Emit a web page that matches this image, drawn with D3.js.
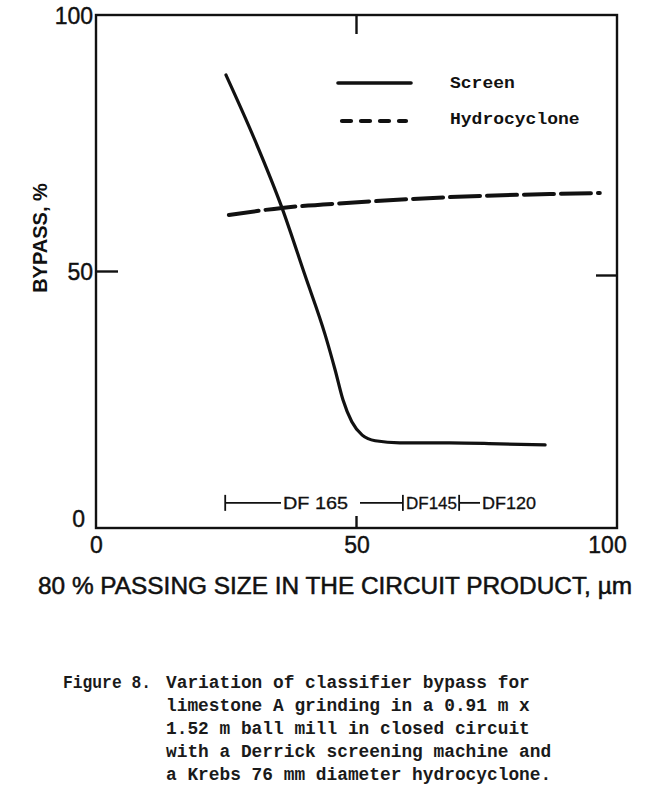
<!DOCTYPE html>
<html><head><meta charset="utf-8">
<script src="https://cdn.jsdelivr.net/npm/d3@7/dist/d3.min.js"></script>
<style>body{margin:0;background:#fff}svg{display:block}</style>
</head><body>
<script>
// ---- data ----
const screenX = [24.95, 30.5, 35.7, 40.1, 44.0, 45.9, 47.4, 49.1, 51.1, 53.6, 58.3, 67.9, 77.5, 86.2];
const screenY = [88.3, 75.6, 62.4, 49.3, 37.6, 30.8, 25.0, 20.7, 18.1, 17.0, 16.6, 16.6, 16.4, 16.2];
const hydroX = [25.5, 35.7, 48.8, 67.9, 87.1, 96.7];
const hydroY = [61.0, 62.4, 63.4, 64.5, 65.1, 65.3];
const xTicks = [0, 50, 100];
const yTicks = [0, 50, 100];
const seriesNames = ["Screen", "Hydrocyclone"];
const dfLabels = ["DF 165", "DF145", "DF120"];
const dfBars = [24.8, 58.9, 69.7];
const captionHead = "Figure 8.";
const captionLines = [
  "Variation of classifier bypass for",
  "limestone A grinding in a 0.91 m x",
  "1.52 m ball mill in closed circuit",
  "with a Derrick screening machine and",
  "a Krebs 76 mm diameter hydrocyclone."
];

const W = 646, H = 788;
const svg = d3.select("body").append("svg").attr("width", W).attr("height", H);
svg.append("rect").attr("width", W).attr("height", H).attr("fill", "#fff");

const x = d3.scaleLinear().domain([0, 100]).range([96, 617]);
const y = d3.scaleLinear().domain([0, 100]).range([528, 15]);

const ink = "#111";
const sans = "'Liberation Sans', Arial, sans-serif";
const mono = "'Liberation Mono', 'DejaVu Sans Mono', monospace";

// frame
svg.append("rect").attr("x", x(0)).attr("y", y(100))
  .attr("width", x(100) - x(0)).attr("height", y(0) - y(100))
  .attr("fill", "none").attr("stroke", ink).attr("stroke-width", 2.4);

// inward ticks at 50
const g = svg.append("g").attr("stroke", ink).attr("stroke-width", 2.4);
g.append("line").attr("x1", x(0)).attr("x2", x(0) + 22).attr("y1", y(50)).attr("y2", y(50));
g.append("line").attr("x1", x(100)).attr("x2", x(100) - 21).attr("y1", y(50) + 4).attr("y2", y(50) + 4);
g.append("line").attr("x1", x(50)).attr("x2", x(50)).attr("y1", y(0)).attr("y2", y(0) - 12);
g.append("line").attr("x1", x(50)).attr("x2", x(50)).attr("y1", y(100)).attr("y2", y(100) + 19);

// axes (labels only)
const yAxis = svg.append("g").attr("transform", `translate(${x(0) - 3},0)`)
  .call(d3.axisLeft(y).tickValues(yTicks).tickSize(0).tickPadding(0).tickFormat(d3.format("d")));
yAxis.select(".domain").remove();
yAxis.selectAll("text").attr("font-family", sans).attr("font-size", 23).attr("fill", ink)
  .attr("stroke", ink).attr("stroke-width", 0.4)
  .attr("dy", (d) => d === 0 ? "-0.05em" : "0.35em")
  .attr("dx", (d) => d === 0 ? "-8px" : "0");

const xAxis = svg.append("g").attr("transform", `translate(0,${y(0) + 8})`)
  .call(d3.axisBottom(x).tickValues(xTicks).tickSize(0).tickPadding(0).tickFormat(d3.format("d")));
xAxis.select(".domain").remove();
xAxis.selectAll("text").attr("font-family", sans).attr("font-size", 23).attr("fill", ink)
  .attr("stroke", ink).attr("stroke-width", 0.4)
  .attr("dy", "0.75em").attr("dx", (d) => d === 100 ? "-10px" : "0");

// axis titles
svg.append("text").attr("transform", `translate(47,238) rotate(-90)`)
  .attr("text-anchor", "middle").attr("font-family", sans).attr("font-size", 20)
  .attr("font-weight", "bold").attr("fill", ink).text("BYPASS, %");
svg.append("text").attr("x", 335).attr("y", 594)
  .attr("text-anchor", "middle").attr("font-family", sans).attr("font-size", 23)
  .attr("stroke", ink).attr("stroke-width", 0.5)
  .attr("textLength", 594).attr("lengthAdjust", "spacingAndGlyphs")
  .attr("fill", ink).text("80 % PASSING SIZE IN THE CIRCUIT PRODUCT, µm");

// curves
const line = d3.line().x(d => x(d[0])).y(d => y(d[1])).curve(d3.curveMonotoneX);
svg.append("path").datum(screenX.map((v, i) => [v, screenY[i]]))
  .attr("d", line).attr("fill", "none").attr("stroke", ink).attr("stroke-width", 3.2)
  .attr("stroke-linecap", "round");
svg.append("path").datum(hydroX.map((v, i) => [v, hydroY[i]]))
  .attr("d", line).attr("fill", "none").attr("stroke", ink).attr("stroke-width", 4)
  .attr("stroke-dasharray", "30,7").attr("stroke-linecap", "round");

// legend
const lg = svg.append("g");
lg.append("line").attr("x1", 338).attr("x2", 411).attr("y1", 83).attr("y2", 83)
  .attr("stroke", ink).attr("stroke-width", 3.6).attr("stroke-linecap", "round");
lg.append("line").attr("x1", 342).attr("x2", 406).attr("y1", 121).attr("y2", 121)
  .attr("stroke", ink).attr("stroke-width", 4.2).attr("stroke-dasharray", "9,10")
  .attr("stroke-linecap", "round");
lg.selectAll("text").data(seriesNames).join("text")
  .attr("x", 450).attr("y", (d, i) => 88 + i * 36)
  .attr("font-family", mono).attr("font-weight", "bold").attr("font-size", 17)
  .attr("textLength", (d) => d.length * 10.8).attr("lengthAdjust", "spacingAndGlyphs")
  .attr("fill", ink).text(d => d);

// DF annotation
const yDF = y(4.9);
const ag = svg.append("g").attr("stroke", ink).attr("stroke-width", 1.8);
dfBars.forEach(b => ag.append("line").attr("x1", x(b)).attr("x2", x(b)).attr("y1", yDF - 8).attr("y2", yDF + 8));
ag.append("line").attr("x1", x(dfBars[0])).attr("x2", 281).attr("y1", yDF).attr("y2", yDF);
ag.append("line").attr("x1", 360).attr("x2", x(dfBars[1])).attr("y1", yDF).attr("y2", yDF);
ag.append("line").attr("x1", x(dfBars[2])).attr("x2", 480).attr("y1", yDF).attr("y2", yDF);
const dfPos = [[283, 65], [406, 51], [482, 54]];
svg.selectAll(".df").data(dfLabels).join("text").attr("class", "df")
  .attr("x", (d, i) => dfPos[i][0]).attr("y", yDF + 6)
  .attr("textLength", (d, i) => dfPos[i][1]).attr("lengthAdjust", "spacingAndGlyphs")
  .attr("font-family", sans).attr("font-size", 17).attr("fill", ink)
  .attr("stroke", ink).attr("stroke-width", 0.3).text(d => d);

// caption
const cg = svg.append("g").attr("font-family", mono).attr("font-weight", "bold")
  .attr("font-size", 18).attr("fill", "#1a1a1a");
cg.append("text").attr("x", 63).attr("y", 688)
  .attr("textLength", 88).attr("lengthAdjust", "spacingAndGlyphs")
  .text(captionHead);
cg.selectAll(".cl").data(captionLines).join("text").attr("class", "cl")
  .attr("x", 166).attr("y", (d, i) => 688 + i * 23)
  .attr("textLength", d => d.length * 10.7).attr("lengthAdjust", "spacingAndGlyphs")
  .text(d => d);
</script>
</body></html>
